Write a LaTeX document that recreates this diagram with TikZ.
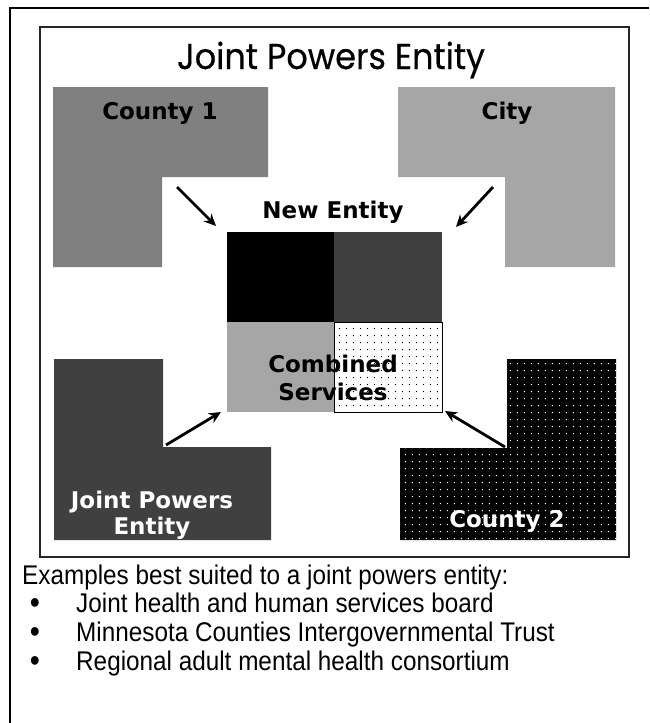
\documentclass[tikz,border=0pt]{standalone}
\usepackage{fontspec}
\setmainfont{Liberation Sans}
\newfontfamily\bodyfont{Liberation Sans}[FakeStretch=0.9]
\newfontfamily\lblfont{DejaVu Sans}
\newfontfamily\titlefont{Poppins}[FakeStretch=0.93,FakeBold=0.4]
\usetikzlibrary{arrows.meta,patterns.meta}
\definecolor{gA}{HTML}{808080}
\definecolor{gB}{HTML}{A6A6A6}
\definecolor{gC}{HTML}{404040}
\begin{document}
\begin{tikzpicture}[x=1pt,y=-1pt,
  lbl/.style={font=\lblfont\bfseries\fontsize{23}{26}\selectfont, inner sep=0pt, anchor=base},
  body/.style={font=\bodyfont\fontsize{27}{31}\selectfont, inner sep=0pt},
  bul/.style={font=\bodyfont\fontsize{32}{32}\selectfont, inner sep=0pt, anchor=base, text height=13pt, text depth=0pt},
  arr/.style={line width=2.8pt, -{Stealth[length=12pt,width=11pt]}},
  wdots/.style={pattern={Dots[distance=7.4pt,radius=0.75pt]}, pattern color=white},
  bdots/.style={pattern={Dots[distance=7.4pt,radius=0.7pt]}, pattern color=black}]
\useasboundingbox (0,0) rectangle (649,723);
\fill[white] (0,0) rectangle (649,723);
% outer frame (only top and left visible)
\draw[line width=2.6pt] (649,8) -- (10,8) -- (10,723);
% inner box
\draw[line width=1.2pt, draw=black!85] (40,27) rectangle (629,557);
% title
\node[font=\titlefont\fontsize{36}{40}\selectfont, anchor=base, inner sep=0pt] (title) at (331,69) {Joint Powers Entity};
% L-shapes
\fill[gA] (53,87) -- (268,87) -- (268,177) -- (162,177) -- (162,267) -- (53,267) -- cycle;
\fill[gB] (398,87) -- (615,87) -- (615,267) -- (505,267) -- (505,177) -- (398,177) -- cycle;
\fill[gC] (54,359) -- (163,359) -- (163,447) -- (271,447) -- (271,540) -- (54,540) -- cycle;
\fill[black] (507,359) -- (616,359) -- (616,540) -- (400,540) -- (400,448) -- (507,448) -- cycle;
\fill[wdots] (507,359) -- (616,359) -- (616,540) -- (400,540) -- (400,448) -- (507,448) -- cycle;
% centre square
\fill[black] (227,232) rectangle (334,322);
\fill[gC] (334,232) rectangle (442,322);
\fill[gB] (227,322) rectangle (334,412);
\fill[white] (334,322) rectangle (442,412);
\fill[bdots] (334,322) rectangle (442,412);
\draw[line width=1pt] (334,322) rectangle (442,412);
% labels
\node[lbl] (c1) at (160,119) {County 1};
\node[lbl] (city) at (507,119) {City};
\node[lbl] (ne) at (333,218) {New Entity};
\node[lbl, font=\lblfont\bfseries\fontsize{23}{28}\selectfont] (cs) at (333,372) {\begin{tabular}[t]{@{}c@{}}Combined\\Services\end{tabular}};
\node[lbl, text=white] (jpe) at (152,508) {\begin{tabular}[t]{@{}c@{}}Joint Powers\\Entity\end{tabular}};
\node[lbl, text=white] (c2) at (507,527) {County 2};
% arrows
\coordinate (a1s) at (177,187); \coordinate (a1e) at (216,226);
\coordinate (a2s) at (493,187); \coordinate (a2e) at (456,227);
\coordinate (a3s) at (166,445); \coordinate (a3e) at (221,412);
\coordinate (a4s) at (505,447); \coordinate (a4e) at (445,411);
\draw[arr] (a1s) -- (a1e);
\draw[arr] (a2s) -- (a2e);
\draw[arr] (a3s) -- (a3e);
\draw[arr] (a4s) -- (a4e);
% text below
\node[body, anchor=base west] (ex) at (22,584) {Examples best suited to a joint powers entity:};
\node[bul] (b1) at (35,613) {•};
\node[bul] (b2) at (35,642) {•};
\node[bul] (b3) at (35,671) {•};
\node[body, anchor=base west] (i1) at (76,612) {Joint health and human services board};
\node[body, anchor=base west] (i2) at (76,641) {Minnesota Counties Intergovernmental Trust};
\node[body, anchor=base west] (i3) at (76,670) {Regional adult mental health consortium};
\end{tikzpicture}
\end{document}
